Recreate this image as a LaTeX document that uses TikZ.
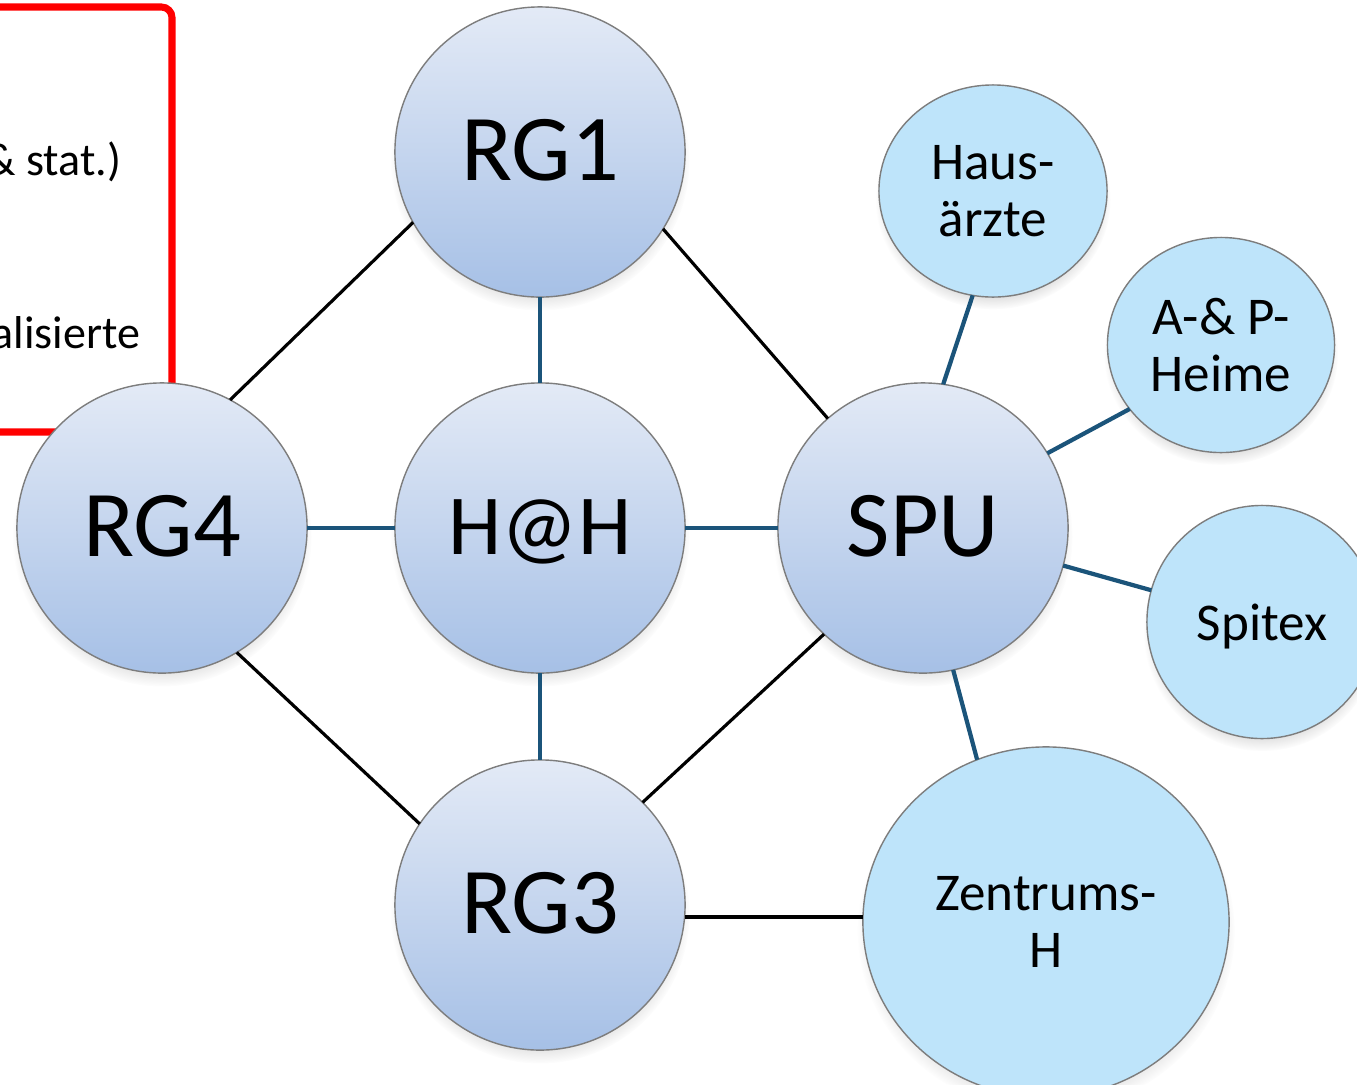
\documentclass[tikz,border=0pt]{standalone}
\usepackage{fontspec}
\setmainfont{Carlito}
\usetikzlibrary{shapes.geometric,shadows}
\definecolor{lineblue}{RGB}{27,84,122}
\definecolor{bigtop}{RGB}{227,234,246}
\definecolor{bigbot}{RGB}{166,192,230}
\definecolor{smallfill}{RGB}{190,228,250}
\definecolor{rimgray}{RGB}{125,125,125}
\definecolor{boxred}{RGB}{255,0,0}
\begin{document}
\begin{tikzpicture}[x=0.01cm,y=-0.01cm,
  softshadow/.style={circular drop shadow={shadow xshift=0pt, shadow yshift=-2.5pt, opacity=0.3, shadow scale=1.03}},
  bignode/.style={circle, minimum size=2.9cm, inner sep=0pt, outer sep=0pt, draw=rimgray, line width=0.4pt,
    top color=bigtop, bottom color=bigbot, font=\fontsize{26.8}{28}\selectfont, text height=0.57cm, text depth=0pt, softshadow},
  smallnode/.style={ellipse, inner sep=0pt, outer sep=0pt, draw=rimgray, line width=0.4pt, fill=smallfill,
    align=center, font=\fontsize{15.1}{16.3}\selectfont, softshadow},
  boxtext/.style={anchor=base east, inner sep=0pt, font=\fontsize{13.1}{15}\selectfont},
  blackline/.style={line width=0.9pt, black},
  blueline/.style={line width=1.2pt, lineblue},
]
\useasboundingbox (0,0) rectangle (1357,1084);
\fill[white] (0,0) rectangle (1357,1084);
\begin{scope}
\clip (0,0) rectangle (1357,1084);
\draw[boxred, line width=2pt, rounded corners=3pt] (-60,7) rectangle (172,432);
\node[boxtext] (t1) at (122,175) {\& stat.)};
\node[boxtext] (t2) at (141,348) {alisierte};

\node[bignode] (rg1) at (540,152) {RG1};
\node[bignode, font=\fontsize{24.3}{26}\selectfont, text height=0.53cm] (hh) at (540,528) {H@H};
\node[bignode] (rg4) at (162,528) {RG4};
\node[bignode] (spu) at (923,528) {SPU};
\node[bignode] (rg3) at (540,905) {RG3};

\node[smallnode, minimum width=2.28cm, minimum height=2.12cm] (haus) at (993,191) {Haus-\\ärzte};
\node[smallnode, minimum width=2.27cm, minimum height=2.15cm] (heime) at (1221,345) {A-\& P-\\Heime};
\node[smallnode, minimum width=2.30cm, minimum height=2.33cm, text depth=0pt] (spitex) at (1262,622) {Spitex};
\node[smallnode, minimum width=3.66cm, minimum height=3.50cm] (zh) at (1046,922) {Zentrums-\\H};
\end{scope}

% black connectors
\draw[blackline] (rg4.62) -- (rg1.209);
\draw[blackline] (rg1.328) -- (spu.131);
\draw[blackline] (rg4.301) -- (rg3.146);
\draw[blackline] (rg3.45) -- (spu.227);
\draw[blackline] (rg3.east |- 0,917) -- (zh.west |- 0,917);

% blue connectors
\draw[blueline] (rg1.south) -- (hh.north);
\draw[blueline] (hh.south) -- (rg3.north);
\draw[blueline] (rg4.east) -- (hh.west);
\draw[blueline] (hh.east) -- (spu.west);
\draw[blueline] (spu.82) -- (haus.259);
\draw[blueline] (spu.31) -- (heime.215);
\draw[blueline] (spu.345) -- (spitex.164);
\draw[blueline] (spu.282) -- (zh.113);
\end{tikzpicture}
\end{document}
